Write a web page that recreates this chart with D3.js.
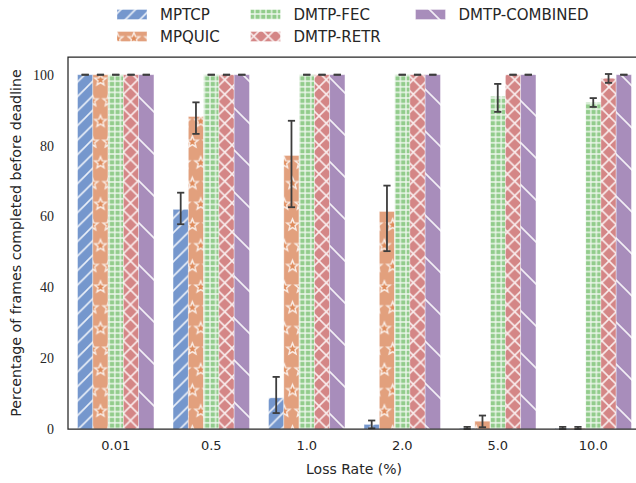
<!DOCTYPE html>
<html><head><meta charset="utf-8">
<script src="https://cdn.jsdelivr.net/npm/d3@7"></script>
<style>body{margin:0;background:#fff}svg{display:block}</style>
</head><body>
<script>
const categories = ["0.01","0.5","1.0","2.0","5.0","10.0"];
const seriesNames = ["MPTCP","MPQUIC","DMTP-FEC","DMTP-RETR","DMTP-COMBINED"];
const mptcp     = [100, 62.0, 8.8, 1.3, 0.2, 0.2];
const mptcpLo   = [100, 57.8, 4.5, 0.2, 0.0, 0.0];
const mptcpHi   = [100, 66.7, 14.7, 2.4, 0.6, 0.6];
const mpquic    = [100, 88.2, 77.2, 61.4, 2.2, 0.2];
const mpquicLo  = [100, 83.3, 62.6, 50.2, 0.5, 0.0];
const mpquicHi  = [100, 92.2, 87.0, 68.7, 3.8, 0.6];
const fec       = [100, 100, 100, 100, 93.9, 92.2];
const fecLo     = [100, 100, 100, 100, 89.5, 90.9];
const fecHi     = [100, 100, 100, 100, 97.4, 93.4];
const retr      = [100, 100, 100, 100, 100, 99.0];
const retrLo    = [100, 100, 100, 100, 100, 97.7];
const retrHi    = [100, 100, 100, 100, 100, 100.2];
const combined  = [100, 100, 100, 100, 100, 100];
const combinedLo= [100, 100, 100, 100, 100, 100];
const combinedHi= [100, 100, 100, 100, 100, 100];
const yTicks = [0, 20, 40, 60, 80, 100];
const xLabel = "Loss Rate (%)";
const yLabel = "Percentage of frames completed before deadline";

const seriesVals = [mptcp, mpquic, fec, retr, combined];
const seriesLo = [mptcpLo, mpquicLo, fecLo, retrLo, combinedLo];
const seriesHi = [mptcpHi, mpquicHi, fecHi, retrHi, combinedHi];
const colors = ["#7597cd", "#e2a07d", "#92cc8c", "#d48686", "#a88dbb"];

const W = 636, H = 483;
const L = 68, R = 641, T = 57, B = 429;

const svg = d3.select("body").append("svg").attr("width", W).attr("height", H);
const defs = svg.append("defs");

function pat(id, w, h, color, ox, oy) {
  const p = defs.append("pattern").attr("id", id).attr("patternUnits", "userSpaceOnUse")
    .attr("width", w).attr("height", h).attr("x", ox).attr("y", oy);
  p.append("rect").attr("width", w).attr("height", h).attr("fill", color);
  return p;
}
const hs = "#ffffff", ho = 0.85;
// MPTCP "/"
{ const s = 14.5; const p = pat("p0", s, s, colors[0], 0, 0);
  p.append("path").attr("d", `M-2,2 L2,-2 M0,${s} L${s},0 M${s-2},${s+2} L${s+2},${s-2}`)
   .attr("stroke", hs).attr("stroke-opacity", ho).attr("stroke-width", 1.6); }
// MPQUIC stars
{ const w = 16.7, h = 41.4; const p = pat("p1", w, h, colors[1], 100.5, 80);
  const star = (cx, cy, ro, ri) => {
    const pts = [];
    for (let i = 0; i < 10; i++) { const r = i % 2 ? ri : ro; const a = -Math.PI/2 + i*Math.PI/5;
      pts.push([cx + r*Math.cos(a), cy + r*Math.sin(a)]); }
    return "M" + pts.map(d => d.join(",")).join("L") + "Z";
  };
  [[0,0],[w,0],[0,h],[w,h],[w/2,h/2]].forEach(([x,y]) => {
    p.append("path").attr("d", star(x, y, 6, 2.6)).attr("fill", "#de8a5a")
     .attr("stroke", hs).attr("stroke-opacity", ho).attr("stroke-width", 1.4);
  }); }
// FEC "+"
{ const s = 5.6; const p = pat("p2", s, s, colors[2], 0, 0);
  p.append("path").attr("d", `M0,${s/2} H${s} M${s/2},0 V${s}`)
   .attr("stroke", hs).attr("stroke-opacity", ho).attr("stroke-width", 1.3); }
// RETR "x"
{ const s = 14.5; const p = pat("p3", s, s, colors[3], 0, 0);
  p.append("path").attr("d", `M-2,2 L2,-2 M0,${s} L${s},0 M${s-2},${s+2} L${s+2},${s-2} M-2,${s-2} L2,${s+2} M0,0 L${s},${s} M${s-2},-2 L${s+2},2`)
   .attr("stroke", hs).attr("stroke-opacity", ho).attr("stroke-width", 1.6); }
// COMBINED "\"
{ const s = 42; const p = pat("p4", s, s, colors[4], 0, 0);
  p.append("path").attr("d", `M-2,${s-2} L2,${s+2} M0,0 L${s},${s} M${s-2},-2 L${s+2},2`)
   .attr("stroke", hs).attr("stroke-opacity", ho).attr("stroke-width", 1.6); }

const x = d3.scaleBand().domain(categories).range([L, R]).paddingInner(0.2).paddingOuter(0.1);
const xs = d3.scaleBand().domain(seriesNames).range([0, x.bandwidth()]);
const y = d3.scaleLinear().domain([0, 105]).range([B, T]);

const g = svg.append("g");
seriesNames.forEach((name, si) => {
  const data = categories.map((c, i) => ({c, v: seriesVals[si][i], lo: seriesLo[si][i], hi: seriesHi[si][i]}));
  g.selectAll(null).data(data).enter().append("rect")
    .attr("x", d => x(d.c) + xs(name))
    .attr("y", d => y(d.v))
    .attr("width", xs.bandwidth())
    .attr("height", d => y(0) - y(d.v))
    .attr("fill", `url(#p${si})`)
    .attr("stroke", "#ffffff").attr("stroke-opacity", 0.45).attr("stroke-width", 0.8);
});
// error bars
seriesNames.forEach((name, si) => {
  const data = categories.map((c, i) => ({c, lo: seriesLo[si][i], hi: seriesHi[si][i]}));
  const cx = d => x(d.c) + xs(name) + xs.bandwidth()/2;
  const eg = g.append("g").attr("stroke", "#3d3d3d").attr("stroke-width", 1.8);
  eg.selectAll(null).data(data).enter().append("line")
    .attr("x1", cx).attr("x2", cx).attr("y1", d => y(d.lo)).attr("y2", d => y(d.hi));
  ["lo","hi"].forEach(k => {
    eg.selectAll(null).data(data).enter().append("line")
      .attr("x1", d => cx(d) - 3.6).attr("x2", d => cx(d) + 3.6)
      .attr("y1", d => y(d[k])).attr("y2", d => y(d[k]));
  });
});

// spines
const sp = svg.append("g").attr("stroke", "#262626").attr("stroke-width", 1.25).attr("fill", "none");
sp.append("path").attr("d", `M${R},${T} H${L} V${B} H${R}`);

// axes
const yAxis = svg.append("g").attr("transform", `translate(${L},0)`)
  .call(d3.axisLeft(y).tickValues(yTicks).tickSize(0).tickPadding(14));
yAxis.select(".domain").remove();
yAxis.selectAll("text").attr("font-family", "'Liberation Serif', serif").attr("font-size", 14).attr("fill", "#262626");

const xAxis = svg.append("g").attr("transform", `translate(0,${B})`)
  .call(d3.axisBottom(x).tickSize(0).tickPadding(12));
xAxis.select(".domain").remove();
xAxis.selectAll("text").attr("font-family", "'DejaVu Sans', sans-serif").attr("font-size", 13).attr("fill", "#262626");

svg.append("text").attr("x", 354).attr("y", 474).attr("text-anchor", "middle")
  .attr("font-family", "'DejaVu Sans', sans-serif").attr("font-size", 14).attr("fill", "#262626").text(xLabel);
svg.append("text").attr("transform", `translate(21,243) rotate(-90)`).attr("text-anchor", "middle")
  .attr("font-family", "'DejaVu Sans', sans-serif").attr("font-size", 14.2).attr("fill", "#262626").text(yLabel);

// legend
const legPos = [[117,9.5],[117,31.5],[250.5,9.5],[250.5,31.5],[415.5,9.5]];
seriesNames.forEach((name, si) => {
  const [lx, ly] = legPos[si];
  svg.append("rect").attr("x", lx).attr("y", ly).attr("width", 30).attr("height", 10)
    .attr("fill", `url(#p${si})`).attr("stroke", "#ffffff").attr("stroke-opacity", 0.45).attr("stroke-width", 0.8);
  svg.append("text").attr("x", lx + 43).attr("y", ly + 10.5)
    .attr("font-family", "'DejaVu Sans', sans-serif").attr("font-size", 15).attr("fill", "#262626").text(name);
});
</script>
</body></html>
